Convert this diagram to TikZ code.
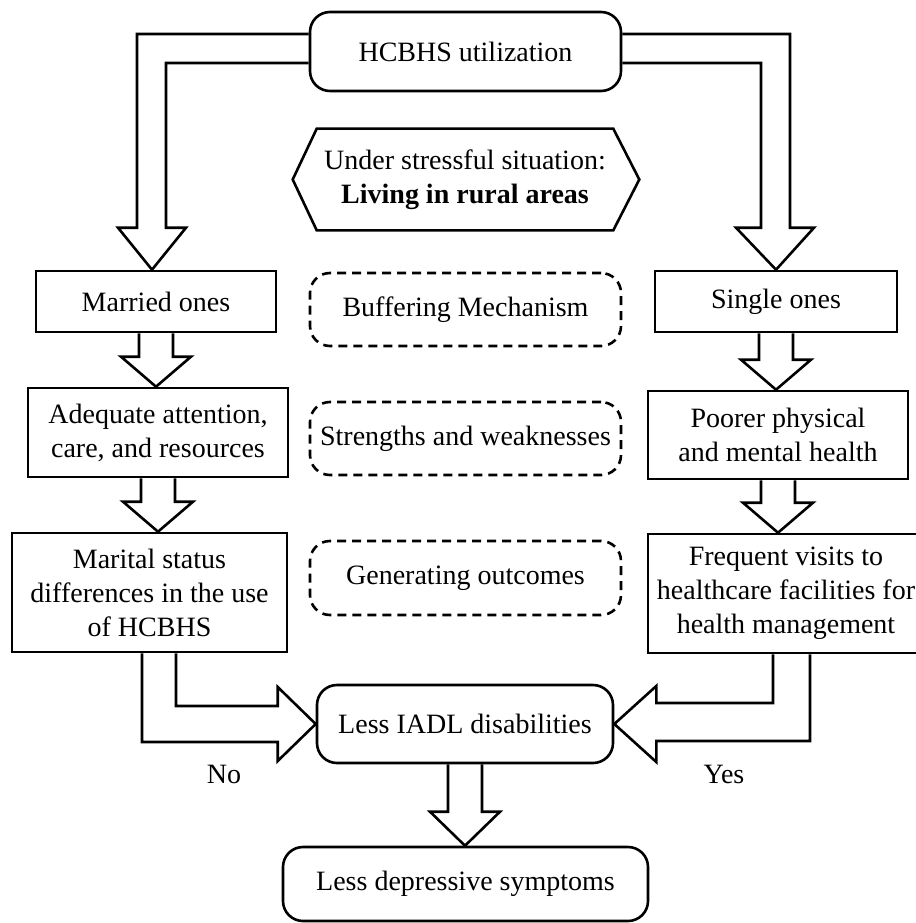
\documentclass[tikz,border=0pt]{standalone}
\usepackage{fontspec}
\setmainfont{Liberation Serif}
\usetikzlibrary{calc, backgrounds}

\begin{document}
\begin{tikzpicture}[x=1pt, y=-1pt, line width=2.6pt,
        font=\fontsize{28}{34}\selectfont,
        box/.style={draw, fill=white, align=center, inner sep=0pt},
        roundbox/.style={box, rounded corners=20pt},
        dashbox/.style={box, rounded corners=20pt, dash pattern=on 9pt off 6pt},
        fat/.style={draw, fill=white, line width=2.6pt, line join=miter}]
            \useasboundingbox (0,0) rectangle (915,923);
            \node[roundbox, minimum width=311pt, minimum height=79pt] (0) at (465.5,51.5) {HCBHS utilization};
            \node[align=center, inner sep=0pt, minimum width=294pt, minimum height=99pt] (1) at (465,179.5) {Under stressful situation:\\\textbf{Living in rural areas}};
            \draw (1.north west) -- (1.north east) -- ($(1.east)+(26,0)$) -- (1.south east) -- (1.south west) -- ($(1.west)+(-24,0)$) -- cycle;
            \node[box, minimum width=240pt, minimum height=61pt] (2) at (156,301.5) {Married ones};
            \node[dashbox, minimum width=311pt, minimum height=73pt] (3) at (465.5,309.5) {Buffering Mechanism};
            \node[box, minimum width=242pt, minimum height=61pt] (4) at (776,301.5) {Single ones};
            \node[box, minimum width=260pt, minimum height=89pt] (5) at (158,432.5) {Adequate attention,\\care, and resources};
            \node[dashbox, minimum width=311pt, minimum height=73pt] (6) at (465.5,438.5) {Strengths and weaknesses};
            \node[box, minimum width=260pt, minimum height=88pt] (7) at (778,435) {Poorer physical\\and mental health};
            \node[box, minimum width=275pt, minimum height=119pt] (8) at (149.5,592.5) {Marital status\\differences in the use\\of HCBHS};
            \node[dashbox, minimum width=311pt, minimum height=74pt] (9) at (465.5,578) {Generating outcomes};
            \node[box, minimum width=276pt, minimum height=119pt] (10) at (786,593.5) {Frequent visits to\\healthcare facilities for\\health management};
            \node[roundbox, minimum width=296pt, minimum height=78pt] (11) at (465,724) {Less IADL disabilities};
            \node[roundbox, minimum width=365pt, minimum height=74pt] (12) at (465.5,884) {Less depressive symptoms};
            \node (13) at (224,774) {No};
            \node (14) at (724,774) {Yes};
            \begin{scope}[on background layer]
                \draw[fat] ($(0.west)+(0,-17.5)$) -| ($(2.north)+(-19,-42)$) -- ++(-19,0) -- ($(2.north)+(-4,0)$) -- ($(2.north)+(30,-42)$) -- ++(-20,0) |- ($(0.west)+(0,11.5)$);
                \draw[fat] ($(0.east)+(0,-17.5)$) -| ($(4.north)+(14,-42)$) -- ++(24,0) -- (4.north) -- ($(4.north)+(-40,-42)$) -- ++(25,0) |- ($(0.east)+(0,11.5)$);
                \foreach \a/\b/\h in {2/5/30, 5/8/30, 4/7/30, 7/10/30, 11/12/34}
                    \draw[fat] ($(\a.south)+(-17,0)$) -- ($(\a.south |- \b.north)+(-17,-\h)$) -- ++(-18,0) -- (\a.south |- \b.north) -- ($(\a.south |- \b.north)+(35,-\h)$) -- ++(-18,0) -- ($(\a.south)+(17,0)$);
                \draw[fat] ($(8.south)+(-7.5,0)$) |- ($(11.west)+(-38,18)$) -- ++(0,19) -- (11.west) -- ($(11.west)+(-38,-37)$) -- ++(0,19) -| ($(8.south)+(26.5,0)$);
                \draw[fat] ($(10.south)+(24,0)$) |- ($(11.east)+(42,17)$) -- ++(0,21) -- (11.east) -- ($(11.east)+(42,-38)$) -- ++(0,17) -| ($(10.south)+(-13,0)$);
            \end{scope}
        \end{tikzpicture}
\end{document}
